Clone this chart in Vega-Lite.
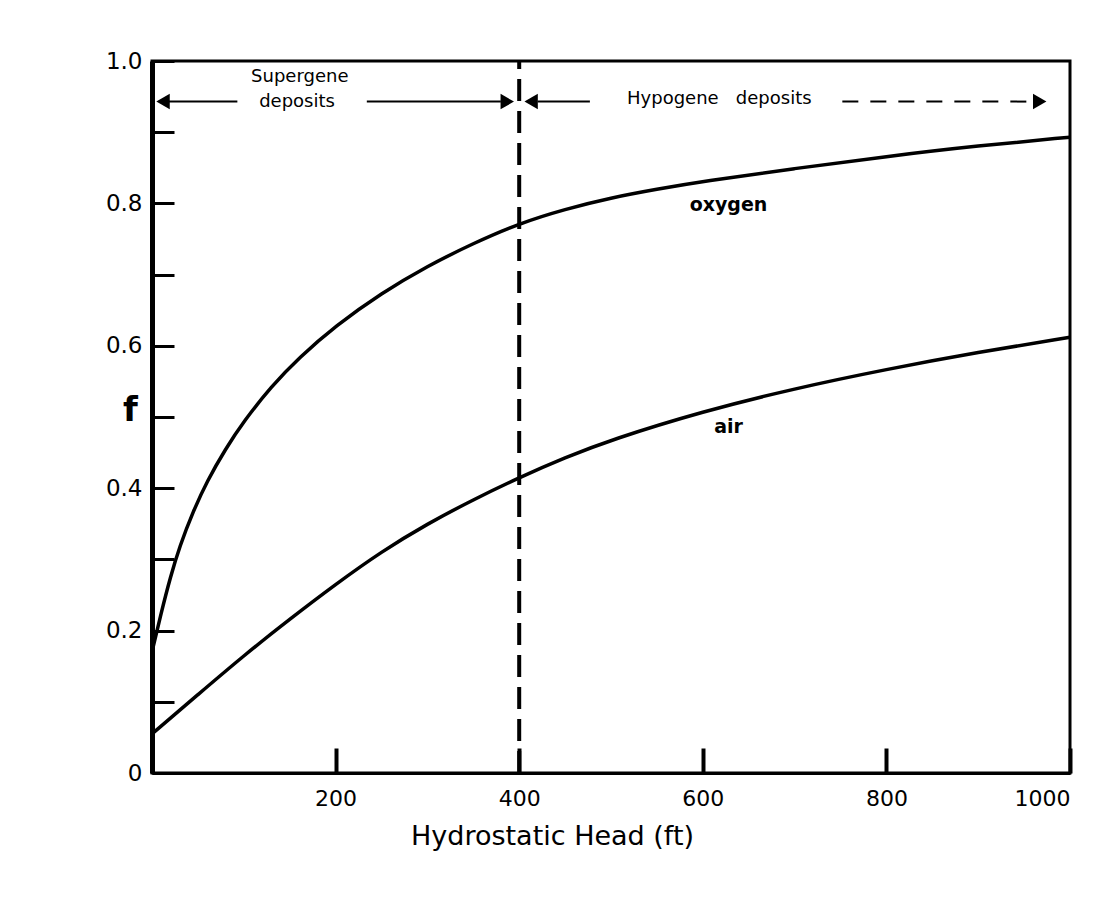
{
  "$schema": "https://vega.github.io/schema/vega-lite/v6.json",
  "width": 918,
  "height": 712,
  "autosize": {"type": "none"},
  "padding": {"left": 152, "top": 61, "right": 42, "bottom": 130},
  "background": "white",
  "config": {
    "view": {"stroke": "black", "strokeWidth": 3},
    "font": "DejaVu Sans"
  },
  "datasets": {
    "curves": [
      {"series": "oxygen", "h": 0, "f": 0.17},
      {"series": "oxygen", "h": 10, "f": 0.225},
      {"series": "oxygen", "h": 20, "f": 0.275},
      {"series": "oxygen", "h": 30, "f": 0.318},
      {"series": "oxygen", "h": 45, "f": 0.368},
      {"series": "oxygen", "h": 60, "f": 0.41},
      {"series": "oxygen", "h": 80, "f": 0.455},
      {"series": "oxygen", "h": 100, "f": 0.494},
      {"series": "oxygen", "h": 130, "f": 0.543},
      {"series": "oxygen", "h": 160, "f": 0.583},
      {"series": "oxygen", "h": 200, "f": 0.628},
      {"series": "oxygen", "h": 250, "f": 0.674},
      {"series": "oxygen", "h": 300, "f": 0.712},
      {"series": "oxygen", "h": 350, "f": 0.744},
      {"series": "oxygen", "h": 400, "f": 0.772},
      {"series": "oxygen", "h": 450, "f": 0.792},
      {"series": "oxygen", "h": 500, "f": 0.808},
      {"series": "oxygen", "h": 550, "f": 0.82},
      {"series": "oxygen", "h": 600, "f": 0.831},
      {"series": "oxygen", "h": 700, "f": 0.849},
      {"series": "oxygen", "h": 800, "f": 0.866},
      {"series": "oxygen", "h": 900, "f": 0.881},
      {"series": "oxygen", "h": 1000, "f": 0.893},
      {"series": "air", "h": 0, "f": 0.055},
      {"series": "air", "h": 50, "f": 0.11},
      {"series": "air", "h": 100, "f": 0.165},
      {"series": "air", "h": 150, "f": 0.216},
      {"series": "air", "h": 200, "f": 0.265},
      {"series": "air", "h": 250, "f": 0.311},
      {"series": "air", "h": 300, "f": 0.35},
      {"series": "air", "h": 350, "f": 0.384},
      {"series": "air", "h": 400, "f": 0.415},
      {"series": "air", "h": 450, "f": 0.443},
      {"series": "air", "h": 500, "f": 0.468},
      {"series": "air", "h": 600, "f": 0.508},
      {"series": "air", "h": 700, "f": 0.54},
      {"series": "air", "h": 800, "f": 0.567},
      {"series": "air", "h": 900, "f": 0.591},
      {"series": "air", "h": 1000, "f": 0.612}
    ],
    "divider": [{"h": 400, "f0": 0, "f1": 1}],
    "labels": [
      {"text": "oxygen", "h": 628, "f": 0.798},
      {"text": "air", "h": 628, "f": 0.486}
    ],
    "headers": [
      {"text": "Supergene", "h": 161, "f": 0.977},
      {"text": "deposits", "h": 158, "f": 0.943},
      {"text": "Hypogene\u00a0\u00a0\u00a0deposits", "h": 618, "f": 0.947}
    ],
    "arrows": [
      {"kind": "solid", "h": 8, "h2": 93, "f": 0.943},
      {"kind": "solid", "h": 234, "h2": 380, "f": 0.943},
      {"kind": "solid", "h": 420, "h2": 477, "f": 0.943},
      {"kind": "dashed", "h": 752, "h2": 960, "f": 0.943}
    ],
    "heads": [
      {"dir": "left", "h": 12, "f": 0.943},
      {"dir": "right", "h": 387, "f": 0.943},
      {"dir": "left", "h": 413, "f": 0.943},
      {"dir": "right", "h": 967, "f": 0.943}
    ]
  },
  "layer": [
    {
      "data": {"name": "curves"},
      "mark": {"type": "line", "color": "black", "strokeWidth": 3.5, "interpolate": "basis"},
      "encoding": {
        "x": {
          "field": "h", "type": "quantitative",
          "scale": {"domain": [0, 1000], "nice": false, "zero": false},
          "axis": {
            "values": [200, 400, 600, 800, 1000],
            "format": "d",
            "grid": false,
            "tickSize": -25,
            "tickWidth": 4,
            "tickColor": "black",
            "domainColor": "black",
            "domainWidth": 3,
            "labelFontSize": 22,
            "labelColor": "black",
            "labelPadding": 40,
            "labelFont": "DejaVu Sans",
            "title": "Hydrostatic Head (ft)",
            "titleFontSize": 27,
            "titleFontWeight": "normal",
            "titleColor": "black",
            "titleX": 400,
            "titleY": 50,
            "titleAlign": "center",
            "titleBaseline": "top"
          }
        },
        "y": {
          "field": "f", "type": "quantitative",
          "scale": {"domain": [0, 1], "nice": false},
          "axis": {
            "values": [0, 0.1, 0.2, 0.3, 0.4, 0.5, 0.6, 0.7, 0.8, 0.9, 1.0],
            "labelExpr": "datum.value == 0 ? '0' : (round(datum.value * 10) % 2 == 0 ? format(datum.value, '.1f') : '')",
            "grid": false,
            "tickSize": -22,
            "tickWidth": 3,
            "tickColor": "black",
            "domainColor": "black",
            "domainWidth": 5,
            "labelFontSize": 23,
            "labelColor": "black",
            "labelPadding": 32,
            "labelFont": "DejaVu Sans",
            "title": "f",
            "titleAngle": 0,
            "titleFontSize": 34,
            "titleFontWeight": "bold",
            "titleColor": "black",
            "titleX": -22,
            "titleY": 349,
            "titleAlign": "center",
            "titleBaseline": "middle"
          }
        },
        "detail": {"field": "series"}
      }
    },
    {
      "data": {"name": "divider"},
      "mark": {"type": "rule", "color": "black", "strokeWidth": 4, "strokeDash": [22, 10]},
      "encoding": {
        "x": {"field": "h", "type": "quantitative"},
        "y": {"field": "f0", "type": "quantitative"},
        "y2": {"field": "f1"}
      }
    },
    {
      "data": {"name": "labels"},
      "mark": {"type": "text", "fontSize": 19, "fontWeight": "bold", "font": "DejaVu Sans", "color": "black", "align": "center", "baseline": "middle"},
      "encoding": {
        "x": {"field": "h", "type": "quantitative"},
        "y": {"field": "f", "type": "quantitative"},
        "text": {"field": "text"}
      }
    },
    {
      "data": {"name": "headers"},
      "mark": {"type": "text", "fontSize": 18, "font": "DejaVu Sans", "color": "black", "align": "center", "baseline": "middle"},
      "encoding": {
        "x": {"field": "h", "type": "quantitative"},
        "y": {"field": "f", "type": "quantitative"},
        "text": {"field": "text"}
      }
    },
    {
      "data": {"name": "arrows"},
      "mark": {"type": "rule", "color": "black", "strokeWidth": 2},
      "encoding": {
        "x": {"field": "h", "type": "quantitative"},
        "x2": {"field": "h2"},
        "y": {"field": "f", "type": "quantitative"},
        "strokeDash": {"field": "kind", "type": "nominal", "scale": {"domain": ["solid", "dashed"], "range": [[1, 0], [16, 12]]}, "legend": null}
      }
    },
    {
      "data": {"name": "heads"},
      "mark": {"type": "point", "filled": true, "color": "black", "size": 240, "opacity": 1},
      "encoding": {
        "x": {"field": "h", "type": "quantitative"},
        "y": {"field": "f", "type": "quantitative"},
        "shape": {"field": "dir", "type": "nominal", "scale": {"domain": ["left", "right"], "range": ["triangle-left", "triangle-right"]}, "legend": null}
      }
    }
  ]
}
